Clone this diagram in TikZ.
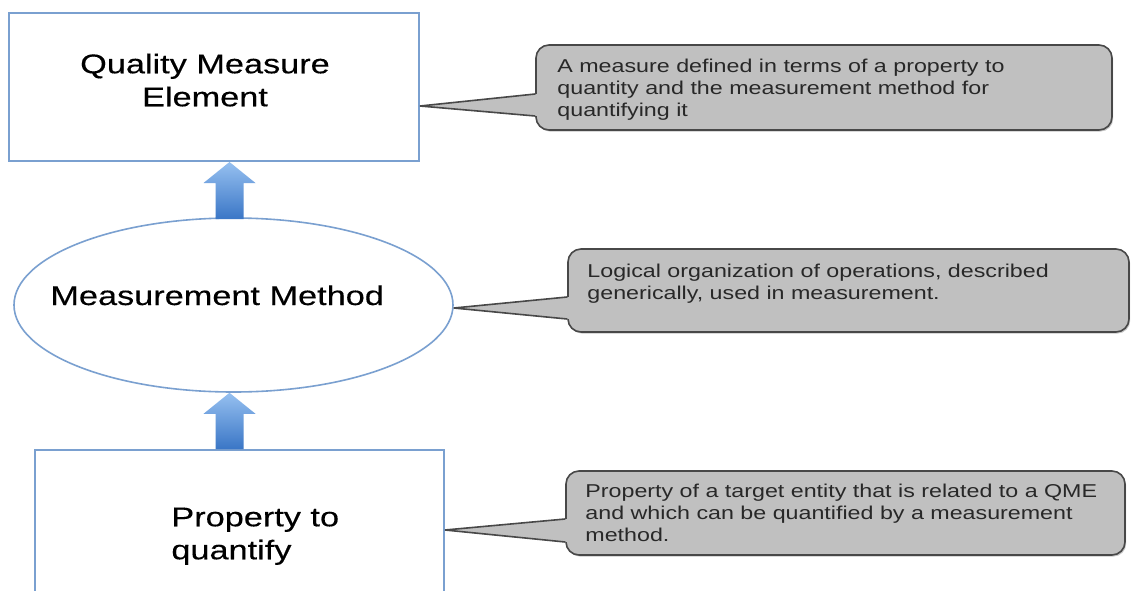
\documentclass[tikz,border=0pt]{standalone}
\usepackage{fontspec}
\setmainfont{Liberation Sans}
\newfontfamily\mainlbl{Liberation Sans}[FakeStretch=1.27, FakeBold=0.3]
\newfontfamily\calllbl{Liberation Sans}[FakeStretch=1.25]
\usetikzlibrary{shapes.geometric,shadows}
\definecolor{boxblue}{RGB}{122,160,208}
\definecolor{callfill}{RGB}{192,192,192}
\definecolor{calldraw}{RGB}{72,72,72}
\definecolor{arrowtop}{RGB}{150,192,240}
\definecolor{arrowbot}{RGB}{58,118,198}
\definecolor{calltextc}{RGB}{40,40,40}
\tikzset{
  bluebox/.style={draw=boxblue, line width=1pt, fill=white, inner sep=0pt},
  blueoval/.style={ellipse, draw=boxblue, line width=0.8pt, fill=white, inner sep=0pt},
  calloutbox/.style={draw=calldraw, line width=0.8pt, fill=callfill, rounded corners=6.5pt, inner sep=0pt,
     drop shadow={shadow xshift=0.6pt, shadow yshift=-0.8pt, opacity=0.45}},
  pointerfill/.style={fill=callfill},
  pointeredge/.style={draw=calldraw, line width=0.8pt},
  blockarrow/.style={top color=arrowtop, bottom color=arrowbot, draw=none},
  maintext/.style={font=\mainlbl\fontsize{13.5}{16.5}\selectfont, text=black, inner sep=0pt},
  calltext/.style={font=\calllbl\fontsize{9.3}{11.1}\selectfont, text=calltextc, inner sep=0pt, align=left},
}
\begin{document}
\begin{tikzpicture}[x=0.5pt,y=-0.5pt]
\clip (0,0) rectangle (1131,590);
\fill[white] (0,0) rectangle (1131,590);

% main shapes
\node[bluebox, minimum width=205pt, minimum height=74pt] (qme) at (214,87) {};
\node[blueoval, minimum width=219.5pt, minimum height=87pt] (mm) at (233.5,305) {};
\node[bluebox, minimum width=204.5pt, minimum height=85pt] (pq) at (239.5,535) {};

% labels
\node[maintext, anchor=north, align=center] (qmet) at (205,53.3) {Quality Measure\\Element};
\node[maintext, anchor=base west] (mmt) at (50,305) {Measurement Method};
\node[maintext, anchor=north west, align=left] (pqt) at (171,507.3) {Property to\\quantify};

% block arrows
\coordinate (ax) at (229.5,0);
\coordinate (t1) at (ax |- qme.south);
\coordinate (b1) at (ax |- mm.north);
\coordinate (t2) at (ax |- mm.south);
\coordinate (b2) at (ax |- pq.north);
\shade[blockarrow] (t1) -- ([shift={(26,21)}]t1) -- ([shift={(14,21)}]t1) -- ([xshift=7pt,yshift=-1pt]b1)
   -- ([xshift=-7pt,yshift=-1pt]b1) -- ([shift={(-14,21)}]t1) -- ([shift={(-26,21)}]t1) -- cycle;
\shade[blockarrow] (t2) -- ([shift={(26,21)}]t2) -- ([shift={(14,21)}]t2) -- ([xshift=7pt]b2)
   -- ([xshift=-7pt]b2) -- ([shift={(-14,21)}]t2) -- ([shift={(-26,21)}]t2) -- cycle;

% callouts
\node[calloutbox, minimum width=288pt, minimum height=42.5pt] (c1) at (824,87.5) {};
\node[calloutbox, minimum width=280.5pt, minimum height=41.5pt] (c2) at (848.5,290.5) {};
\node[calloutbox, minimum width=279.5pt, minimum height=42pt] (c3) at (845.5,513) {};

% pointers
\coordinate (p1) at ([yshift=-9.5pt]qme.east);
\coordinate (p1a) at ([yshift=-3.25pt]c1.west);
\coordinate (p1b) at ([yshift=-14.25pt]c1.west);
\coordinate (p2) at ([yshift=-1.5pt]mm.east);
\coordinate (p2a) at ([yshift=-3.25pt]c2.west);
\coordinate (p2b) at ([yshift=-14.25pt]c2.west);
\coordinate (p3) at ([yshift=2.5pt]pq.east);
\coordinate (p3a) at ([yshift=-3pt]c3.west);
\coordinate (p3b) at ([yshift=-14.5pt]c3.west);
\foreach \t/\a/\b in {p1/p1a/p1b, p2/p2a/p2b, p3/p3a/p3b}{
  \fill[pointerfill] (\t) -- ([xshift=1.5pt]\a) -- ([xshift=1.5pt]\b) -- cycle;
  \draw[pointeredge] (\a) -- (\t) -- (\b);
}

% callout texts
\node[calltext, anchor=north west] (c1t) at (557,58.4) {A measure defined in terms of a property to\\quantity and the measurement method for\\quantifying it};
\node[calltext, anchor=north west] (c2t) at (587,263.4) {Logical organization of operations, described\\generically, used in measurement.};
\node[calltext, anchor=north west] (c3t) at (585,483.4) {Property of a target entity that is related to a QME\\and which can be quantified by a measurement\\method.};
\end{tikzpicture}
\end{document}
